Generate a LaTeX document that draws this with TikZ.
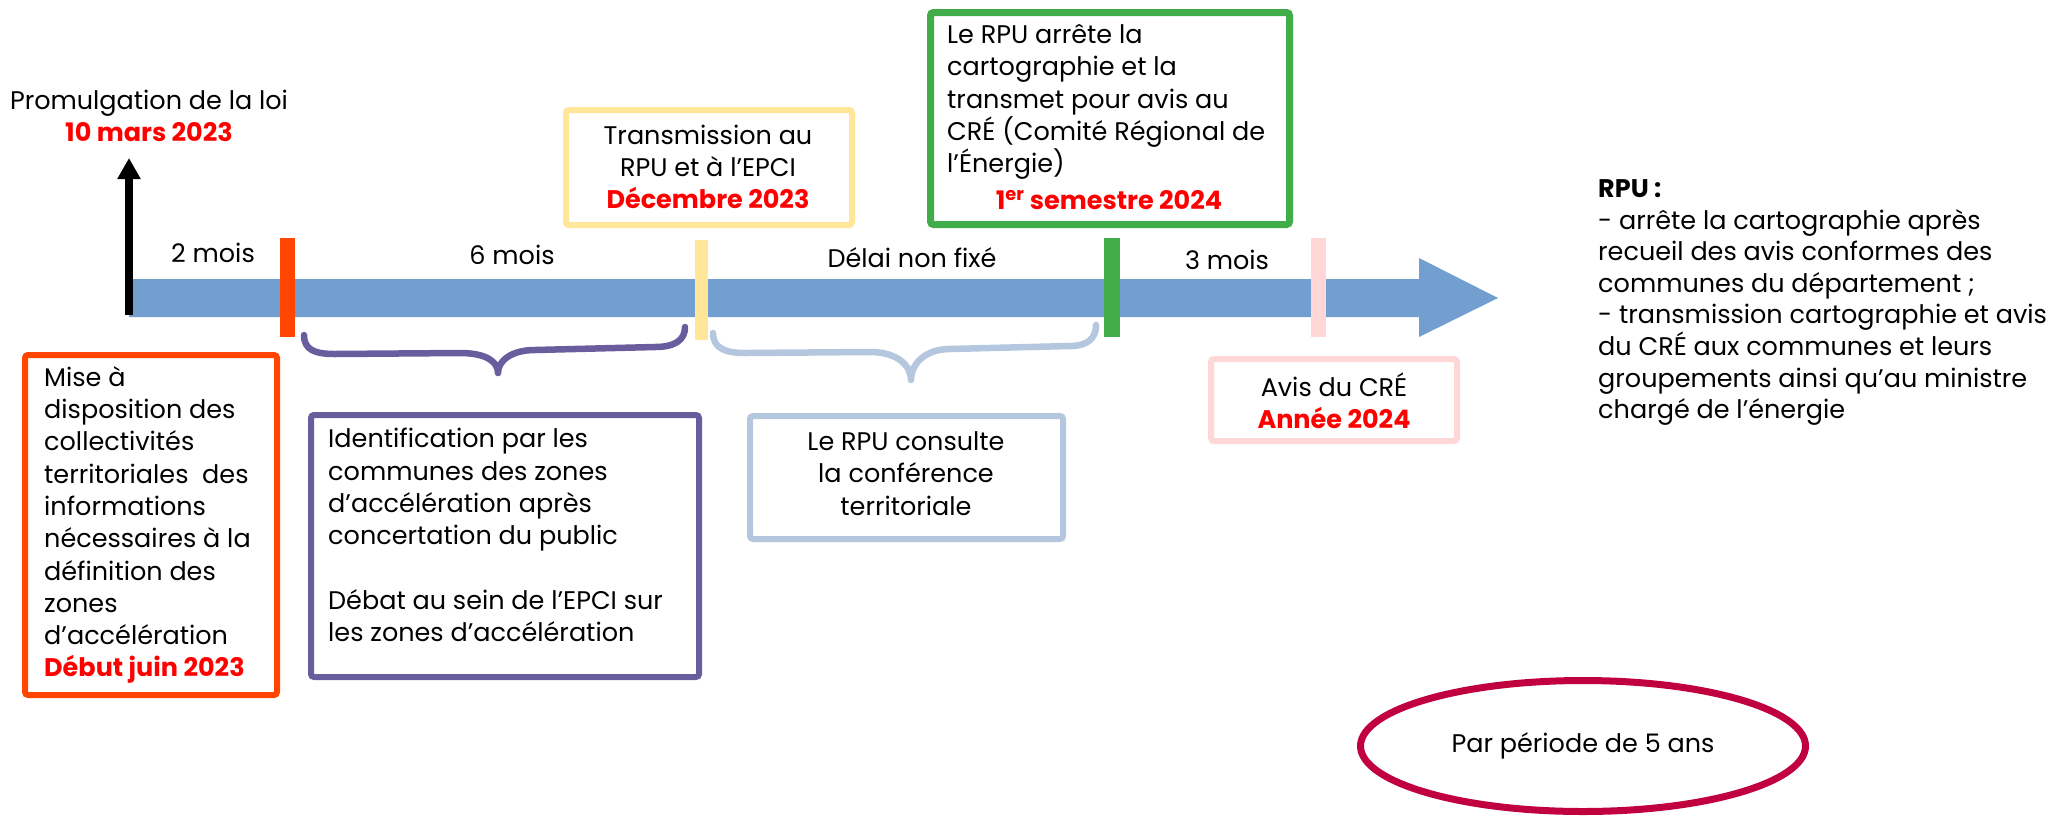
\documentclass[tikz,border=0pt]{standalone}
\usepackage{fontspec}
\setmainfont{Poppins}
\usetikzlibrary{arrows.meta,shapes.geometric}
\definecolor{cOrange}{HTML}{FF4500}
\definecolor{cYellow}{HTML}{FFE699}
\definecolor{cGreen}{HTML}{41AD49}
\definecolor{cPurple}{HTML}{6A5D9E}
\definecolor{cLBlue}{HTML}{B4C7DE}
\definecolor{cPink}{HTML}{FFD7D7}
\definecolor{cBar}{HTML}{729FCF}
\definecolor{cCrimson}{HTML}{C0003F}
\definecolor{cRed}{HTML}{FF0000}
\newcommand{\datehl}[1]{{\color{cRed}\bfseries #1}}
\begin{document}
\begin{tikzpicture}[x=1pt,y=-1pt,
  txt/.style={inner sep=0pt, font=\fontsize{25.5}{32.3}\selectfont},
  box/.style={draw, rounded corners=3pt, inner sep=0pt, line width=6pt},
  tick/.style={inner sep=0pt, minimum width=15pt, minimum height=99pt},
  brace/.style={line width=6.5pt, line cap=round, line join=round}]
\fill[white] (0,0) rectangle (2055,820);
\useasboundingbox (0,0) rectangle (2055,820);

% timeline bar
\fill[cBar] (129,279) -- (1419,279) -- (1419,258) -- (1498,298) -- (1419,337) -- (1419,317) -- (129,317) -- cycle;

% ticks
\node[tick, fill=cOrange] (tOrange) at (287.5,287.5) {};
\node[tick, fill=cYellow, minimum width=13pt, minimum height=100pt] (tYellow) at (701.5,290) {};
\node[tick, fill=cGreen, minimum width=16pt] (tGreen) at (1112,287.5) {};
\node[tick, fill=cPink] (tPink) at (1318.5,287.5) {};

% black arrow
\coordinate (arrBase) at (129,315);
\coordinate (arrTip) at (129,158);
\draw[line width=8pt, -{Triangle[width=22pt,length=21pt]}] (arrBase) -- (arrTip);

% braces
\draw[brace, cPurple] (304,335) .. controls (304,350) and (315,354) .. (335,354)
  -- (460,353) .. controls (485,353) and (498,361) .. (498,373)
  .. controls (498,361) and (511,350) .. (535,350)
  -- (655,347) .. controls (675,347) and (685,340) .. (685,327);
\draw[brace, cLBlue] (713,333) .. controls (713,348) and (725,353) .. (745,353)
  -- (870,352) .. controls (898,352) and (911,366) .. (911,380)
  .. controls (911,364) and (925,349) .. (950,349)
  -- (1070,346) .. controls (1088,346) and (1096,338) .. (1096,325);

% boxes
\node[box, draw=cOrange, minimum width=252pt, minimum height=340pt] (bOrange) at (151,525) {};
\node[box, draw=cYellow, minimum width=286pt, minimum height=115pt] (bYellow) at (709,167.5) {};
\node[box, draw=cGreen, line width=7pt, minimum width=359pt, minimum height=212pt] (bGreen) at (1110,118.5) {};
\node[box, draw=cPurple, minimum width=388pt, minimum height=262pt] (bPurple) at (505,546) {};
\node[box, draw=cLBlue, minimum width=313pt, minimum height=123pt] (bLBlue) at (906.5,477.5) {};
\node[box, draw=cPink, minimum width=246pt, minimum height=82pt] (bPink) at (1334,400) {};
\node[ellipse, draw=cCrimson, line width=7pt, inner sep=0pt, minimum width=445pt, minimum height=131pt, txt] (period) at (1583,746) {Par période de 5 ans};

% labels on timeline
\node[txt] (l2) at (213,253) {2 mois};
\node[txt] (l6) at (512,255) {6 mois};
\node[txt] (lnf) at (912,258) {Délai non fixé};
\node[txt] (l3) at (1227,260) {3 mois};

% texts
\node[txt, align=center] (promul) at (149,116) {Promulgation de la loi\\\datehl{10 mars 2023}};
\node[txt, align=center] (tYel) at (708,167) {Transmission au\\RPU et à l’EPCI\\\datehl{Décembre 2023}};
\node[txt, align=left, anchor=west] (tGre) at (947,102) {Le RPU arrête la\\cartographie et la\\transmet pour avis au\\CRÉ (Comité Régional de\\l’Énergie)};
\node[txt] (tGreDate) at (1109,200) {\datehl{1\textsuperscript{er} semestre 2024}};
\node[txt, align=left, anchor=west] (tOra) at (44,525) {Mise à\\disposition des\\collectivités\\territoriales\ \ des\\informations\\nécessaires à la\\définition des\\zones\\d’accélération\\\datehl{Début juin 2023}};
\node[txt, align=left, anchor=west] (tPur) at (328,535) {Identification par les\\communes des zones\\d’accélération après\\concertation du public\\[32.3pt]Débat au sein de l’EPCI sur\\les zones d’accélération};
\node[txt, align=center] (tLBl) at (906,473.5) {Le RPU consulte\\la conférence\\territoriale};
\node[txt, align=center] (tPin) at (1334,401) {Avis du CRÉ\\\datehl{Année 2024}};
\node[txt, align=left, anchor=west, font=\fontsize{25.5}{31.6}\selectfont] (tRight) at (1598,302.5) {{\bfseries RPU :}\\- arrête la cartographie après\\recueil des avis conformes des\\communes du département ;\\- transmission cartographie et avis\\du CRÉ aux communes et leurs\\groupements ainsi qu’au ministre\\chargé de l’énergie};
\end{tikzpicture}
\end{document}
